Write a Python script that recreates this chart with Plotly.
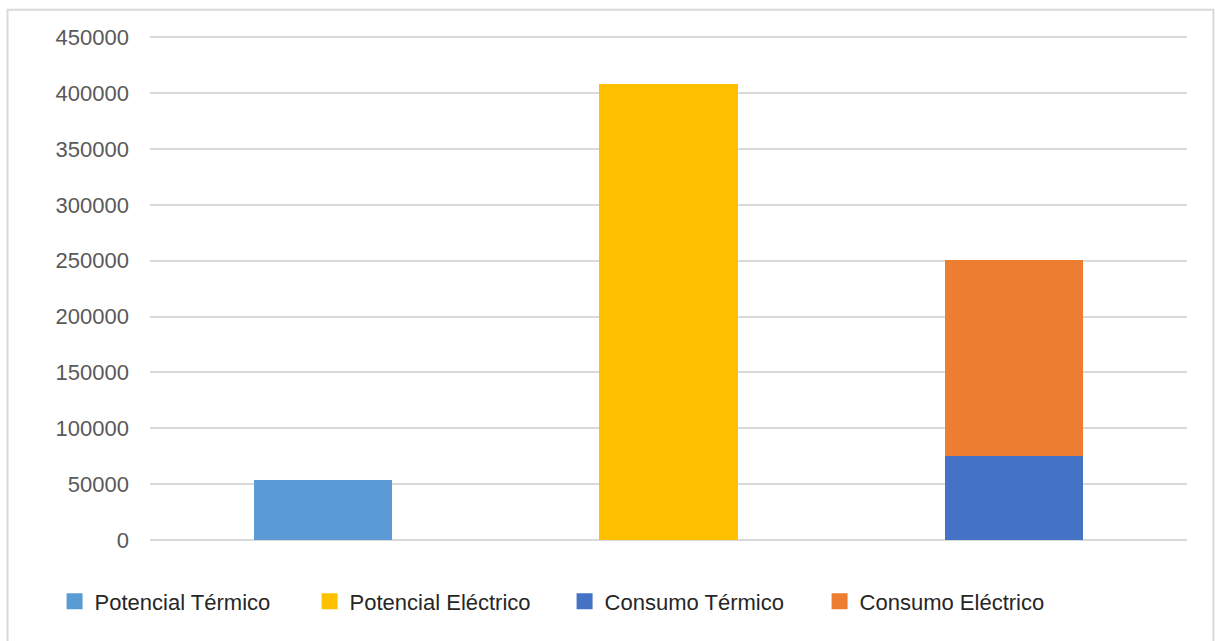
import plotly.graph_objects as go

# Category slots along the x axis (labels are not shown)
categories = ["Potencial Térmico", "Potencial Eléctrico", "Consumo"]

# Series values per category (None where a series has no bar)
potencial_termico = [54000, None, None]
potencial_electrico = [None, 408000, None]
consumo_termico = [None, None, 75000]
consumo_electrico = [None, None, 176000]

series_names = ["Potencial Térmico", "Potencial Eléctrico", "Consumo Térmico", "Consumo Eléctrico"]
series_values = [potencial_termico, potencial_electrico, consumo_termico, consumo_electrico]
series_colors = ["#5B9BD5", "#FFC000", "#4472C4", "#ED7D31"]

y_ticks = [0, 50000, 100000, 150000, 200000, 250000, 300000, 350000, 400000, 450000]

fig = go.Figure()
for name, vals, color in zip(series_names, series_values, series_colors):
    fig.add_trace(go.Bar(
        x=categories, y=vals, name=name, legendgroup=name, showlegend=False,
        marker=dict(color=color, line=dict(width=0)),
    ))

# Legend entries with larger square swatches
for name, color in zip(series_names, series_colors):
    fig.add_trace(go.Scatter(
        x=[None], y=[None], mode="markers", name=name, legendgroup=name,
        marker=dict(symbol="square", size=16, color=color),
        hoverinfo="skip",
    ))

fig.update_layout(
    barmode="stack",
    bargap=0.6,
    width=1215, height=641,
    margin=dict(l=150, r=28, t=34.8, b=101),
    paper_bgcolor="white",
    plot_bgcolor="white",
    font=dict(family="Liberation Sans", color="#595959", size=22),
    xaxis=dict(showticklabels=False, showgrid=False, zeroline=False, showline=False, ticks=""),
    yaxis=dict(
        range=[0, 452000], tickvals=y_ticks, ticktext=[str(v) for v in y_ticks],
        showgrid=True, gridcolor="#d9d9d9", gridwidth=1.5,
        zeroline=True, zerolinecolor="#d9d9d9", zerolinewidth=1.5,
        showline=False, ticks="", ticklabelstandoff=20,
        tickfont=dict(size=22, color="#595959"),
    ),
    legend=dict(
        orientation="h", x=-0.092, xanchor="left", y=-0.08, yanchor="top",
        font=dict(size=22, color="#262626"),
        entrywidth=210, entrywidthmode="pixels",
        traceorder="normal", bgcolor="rgba(0,0,0,0)", itemsizing="trace",
    ),
    shapes=[dict(
        type="rect", xref="paper", yref="paper",
        x0=-0.1374, x1=1.0255, y0=-0.25, y1=1.05,
        line=dict(color="#d9d9d9", width=2), fillcolor="rgba(0,0,0,0)", layer="below",
    )],
)

fig.write_html("out.html")
